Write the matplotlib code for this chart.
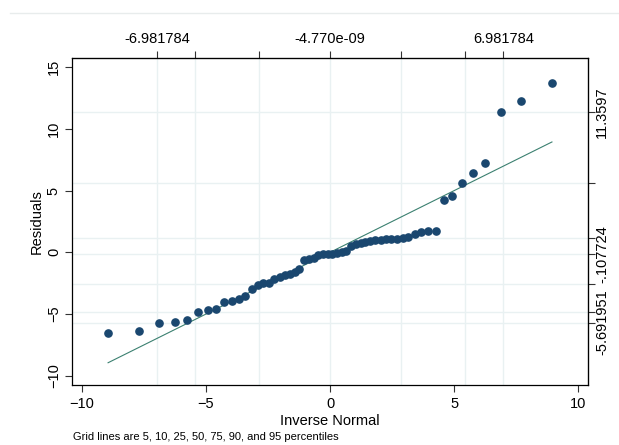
import matplotlib
matplotlib.use("Agg")
import matplotlib.pyplot as plt
from statistics import NormalDist

plt.rcParams['font.family'] = ['Liberation Sans', 'DejaVu Sans']

# Sorted residuals (n = 56)
residuals = [-6.56, -6.40, -5.691951, -5.66, -5.45, -4.86, -4.70, -4.60,
             -4.05, -3.92, -3.74, -3.55, -2.97, -2.66, -2.52, -2.50,
             -2.16, -2.02, -1.85, -1.75, -1.60, -1.38, -0.62, -0.52,
             -0.42, -0.25, -0.15, -0.120, -0.095448, -0.05, 0.0, 0.10,
             0.50, 0.65, 0.75, 0.85, 0.92, 0.97, 1.02, 1.06,
             1.10, 1.12, 1.15, 1.28, 1.48, 1.62, 1.70, 1.72,
             4.24, 4.54, 5.64, 6.43, 7.21, 11.3597, 12.26, 13.72]

# normal with the residuals' mean and sd (as labelled on top axis)
norm_mean = -4.770e-09
norm_sd = 4.24462

grid_pcts = [5, 10, 25, 50, 75, 90, 95]
top_labels = {5: "-6.981784", 50: "-4.770e-09", 95: "6.981784"}
right_labels = {5: "-5.691951", 50: "-.107724", 95: "11.3597"}

bottom_ticks = [-10, -5, 0, 5, 10]
left_ticks = [-10, -5, 0, 5, 10, 15]


def pctile(vals, p):
    # Stata _pctile definition
    n = len(vals)
    k = n * p / 100
    if k == int(k):
        k = int(k)
        return (vals[k - 1] + vals[k]) / 2
    return vals[int(k)]


n = len(residuals)
dist = NormalDist(norm_mean, norm_sd)
inv_normal = [dist.inv_cdf(i / (n + 1)) for i in range(1, n + 1)]

grid_x = [dist.inv_cdf(p / 100) for p in grid_pcts]
grid_y = [pctile(residuals, p) for p in grid_pcts]

fig = plt.figure(figsize=(6.19, 4.45), dpi=100)
ax = fig.add_axes([0.1163, 0.1348, 0.8337, 0.7349])

grid_col = "#e9f1f2"
for gx in grid_x:
    ax.axvline(gx, color=grid_col, lw=1.0, zorder=0)
for gy in grid_y:
    ax.axhline(gy, color=grid_col, lw=1.0, zorder=0)

# reference line y = x over the range of the quantiles
ax.plot([inv_normal[0], inv_normal[-1]], [inv_normal[0], inv_normal[-1]],
        color="#3b8070", lw=0.8, zorder=2)
ax.plot(inv_normal, residuals, 'o', color="#1a476f", ms=5.2, mec="#1a476f",
        zorder=3)

ax.set_xlim(-10.4, 10.4)
ax.set_ylim(-10.75, 15.75)

ax.set_xticks(bottom_ticks)
ax.set_yticks(left_ticks)
ax.tick_params(axis='both', direction='out', length=5, width=0.8,
               labelsize=10.5, color='#333333')
ax.tick_params(axis='y', labelrotation=90, pad=3)
for lab in ax.get_yticklabels():
    lab.set_va('center')

ax.set_xlabel("Inverse Normal", fontsize=10.5, labelpad=2)
ax.set_ylabel("Residuals", fontsize=10.5, labelpad=2)

for sp in ax.spines.values():
    sp.set_color('black')
    sp.set_linewidth(0.9)

# top axis: normal percentiles
top = ax.secondary_xaxis('top')
top.set_xticks(grid_x)
top.set_xticklabels([top_labels.get(p, "") for p in grid_pcts])
top.tick_params(direction='out', length=5, width=0.8, labelsize=10.5,
                color='#333333')

# right axis: residual percentiles
right = ax.secondary_yaxis('right')
right.set_yticks(grid_y)
right.set_yticklabels([right_labels.get(p, "") for p in grid_pcts])
right.tick_params(direction='out', length=5, width=0.8, labelsize=10.5,
                  labelrotation=90, pad=0, color='#333333')
for lab in right.get_yticklabels():
    lab.set_va('center')

fig.text(73 / 619, 1 - 437 / 445, "Grid lines are 5, 10, 25, 50, 75, 90, and 95 percentiles",
         fontsize=8, va='center', ha='left')

# faint outer border at top of the image
fig.add_artist(plt.Line2D([10 / 619, 1], [1 - 13 / 445, 1 - 13 / 445],
                          transform=fig.transFigure, color="#e8ecec", lw=1))

fig.savefig("out.png", dpi=100)
